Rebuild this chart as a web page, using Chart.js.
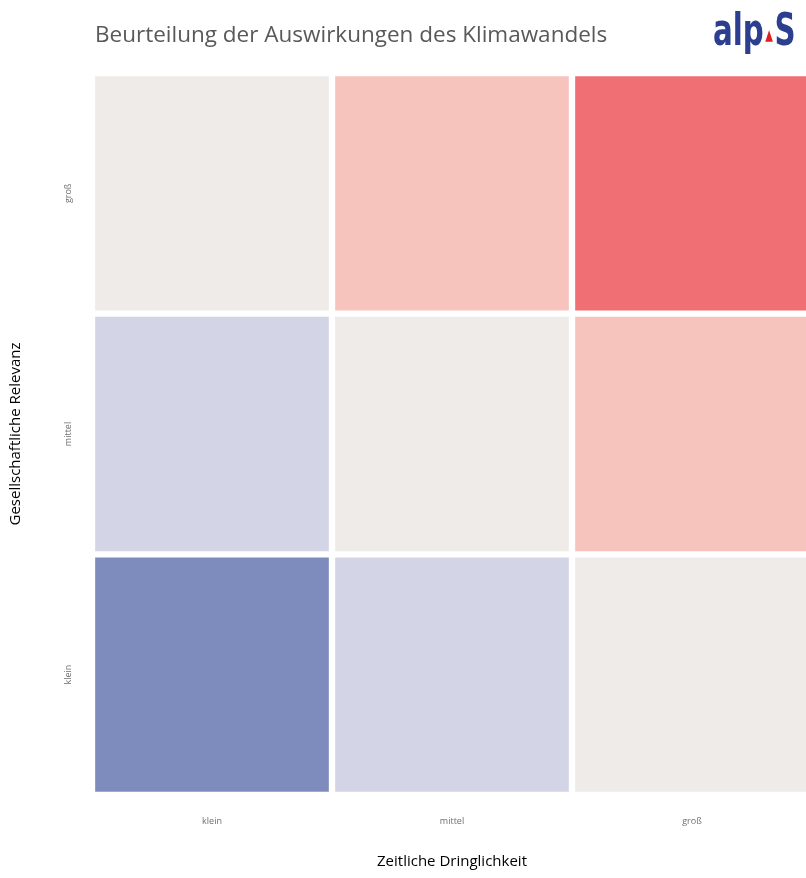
<!DOCTYPE html>
<html>
<head>
<meta charset="utf-8">
<script src="https://cdn.jsdelivr.net/npm/chart.js@4.4.1/dist/chart.umd.min.js"></script>
<style>
  body { margin: 0; background: #fff; overflow: hidden; }
  .wrap { position: relative; width: 806px; height: 878px; overflow: hidden; }
  .title {
    position: absolute; left: 95px; top: 18px;
    font-family: "Open Sans", sans-serif; font-size: 22.5px; color: #595959;
  }
  .logo {
    position: absolute; left: 713px; top: 4px;
    font-family: "Liberation Sans Narrow", "DejaVu Sans Condensed", sans-serif;
    font-weight: bold; font-size: 44px; color: #2b3e8f;
    transform: scaleX(0.74); transform-origin: left top; white-space: nowrap;
  }
  .logo .tri { color: #e0201e; font-size: 15px; vertical-align: 5px; margin: 0 2px; }
</style>
</head>
<body>
<div class="wrap">
  <canvas id="matrixChart" width="812" height="878"></canvas>
  <div class="title">Beurteilung der Auswirkungen des Klimawandels</div>
  <div class="logo">alp<span class="tri">&#9650;</span>S</div>
</div>
<script>
  // axes
  const xLabels = ["klein", "mittel", "groß"];
  const yLabels = ["klein", "mittel", "groß"]; // bottom to top

  // score per cell (x minus y), one array per row
  const rowKlein = [-2, -1, 0];
  const rowMittel = [-1, 0, 1];
  const rowGross = [0, 1, 2];

  const scoreColors = {
    "-2": "#7d8cbc",
    "-1": "#d3d5e7",
    "0": "#eeebe9",
    "1": "#f7c4bd",
    "2": "#f06f75",
  };

  const rows = [rowKlein, rowMittel, rowGross];

  const datasets = rows.map((row, i) => ({
    label: yLabels[i],
    data: row.map(() => 1),
    backgroundColor: row.map((s) => scoreColors[String(s)]),
    borderColor: "#ffffff",
    borderWidth: 3.5,
    borderSkipped: false,
    borderRadius: { topLeft: 3, topRight: 3, bottomLeft: 3, bottomRight: 3 },
    barPercentage: 1,
    categoryPercentage: 1,
  }));

  const ctx = document.getElementById("matrixChart").getContext("2d");
  const myChart = new Chart(ctx, {
    type: "bar",
    data: { labels: xLabels, datasets: datasets },
    options: {
      responsive: false,
      animation: false,
      layout: { padding: { top: 73, right: 0, left: 0, bottom: 0 } },
      plugins: { legend: { display: false }, tooltip: { enabled: false } },
      scales: {
        x: {
          stacked: true,
          grid: { display: false },
          border: { display: false },
          ticks: { color: "#6f6f6f", font: { family: "Open Sans", size: 9 }, padding: 13 },
          title: {
            display: true,
            text: "Zeitliche Dringlichkeit",
            color: "#000",
            font: { family: "Open Sans", size: 15 },
            padding: { top: 0, bottom: 7 },
          },
          afterFit: (scale) => { scale.height = 83; },
        },
        y: {
          stacked: true,
          display: false,
          min: 0,
          max: 3,
        },
        yCat: {
          type: "category",
          labels: yLabels.slice().reverse(),
          offset: true,
          position: "left",
          grid: { display: false },
          border: { display: false },
          ticks: {
            color: "#6f6f6f",
            font: { family: "Open Sans", size: 9 },
            minRotation: 90,
            maxRotation: 90,
            crossAlign: "center",
            padding: 3,
          },
          title: {
            display: true,
            text: "Gesellschaftliche Relevanz",
            color: "#000",
            font: { family: "Open Sans", size: 15 },
            padding: { top: 7, bottom: 0 },
          },
          afterFit: (scale) => { scale.width = 92; },
        },
      },
    },
  });
</script>
</body>
</html>
